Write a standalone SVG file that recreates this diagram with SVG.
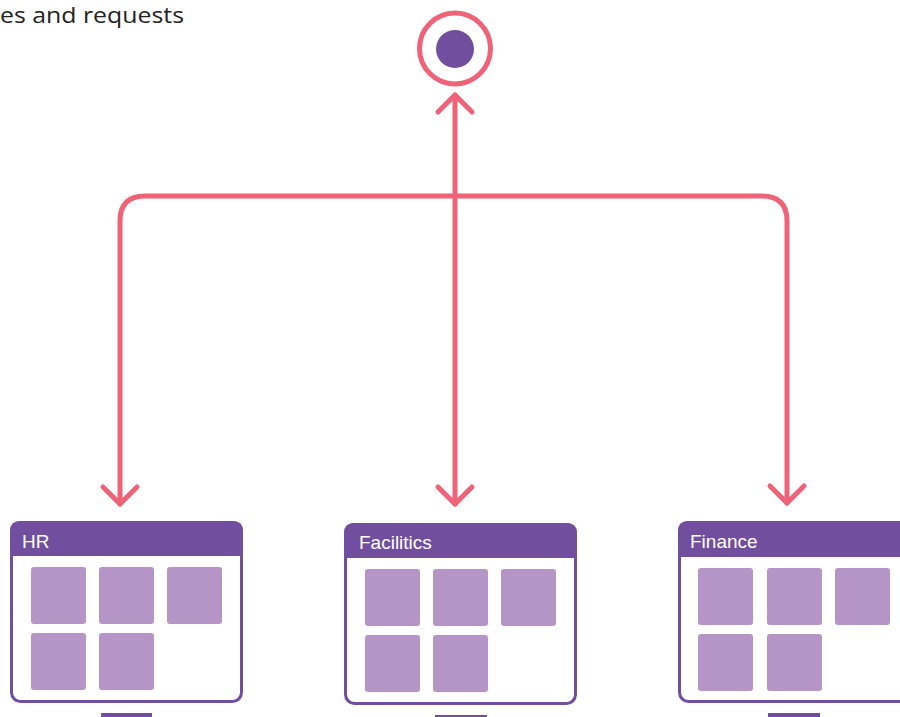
<svg xmlns="http://www.w3.org/2000/svg" width="900" height="717" viewBox="0 0 900 717">
<style>
.conn{fill:none;stroke:#f06278;stroke-width:5;stroke-linecap:round;stroke-linejoin:round}
.frame{fill:#fff;stroke:#714f9e;stroke-width:3}
.head{fill:#714f9e}
.tile{fill:#b495c5}
.lbl{font-family:"Liberation Sans",Arial,sans-serif;font-size:19px;fill:#fff}
.stand{fill:#714f9e}
</style>
<text x="0" y="23" font-family="'Open Sans','Noto Sans',sans-serif" font-size="21" fill="#222" textLength="184" lengthAdjust="spacingAndGlyphs">es and requests</text>
<g id="hub">
<circle cx="455" cy="48.5" r="35.5" fill="#fff" stroke="#f06278" stroke-width="5"/>
<circle cx="455" cy="49" r="19" fill="#714f9e"/>
</g>
<g id="connectors">
<path class="conn" d="M455 95 V504"/>
<path class="conn" d="M438 112 L455 95 L472 112"/>
<path class="conn" d="M438 487 L455 504 L472 487"/>
<path class="conn" d="M120 504 V221 Q120 196 145 196 H762 Q787 196 787 221 V503"/>
<path class="conn" d="M103 487 L120 504 L137 487"/>
<path class="conn" d="M770 486 L787 503 L804 486"/>
</g>
<g id="hr">
<rect x="11.5" y="522.5" width="230" height="179" rx="9" class="frame"/>
<path class="head" d="M10 556 V531 Q10 521 20 521 H233 Q243 521 243 531 V556 Z"/>
<text x="22" y="548" class="lbl">HR</text>
<rect x="31" y="567" width="55" height="57" rx="3" class="tile"/>
<rect x="99" y="567" width="55" height="57" rx="3" class="tile"/>
<rect x="167" y="567" width="55" height="57" rx="3" class="tile"/>
<rect x="31" y="633" width="55" height="57" rx="3" class="tile"/>
<rect x="99" y="633" width="55" height="57" rx="3" class="tile"/>
<rect x="101" y="713" width="51" height="6" class="stand"/>
</g>
<g id="facilities">
<rect x="345.5" y="524.5" width="230" height="179" rx="9" class="frame"/>
<path class="head" d="M344 558 V533 Q344 523 354 523 H567 Q577 523 577 533 V558 Z"/>
<text x="359" y="549" class="lbl">Facilitics</text>
<rect x="365" y="569" width="55" height="57" rx="3" class="tile"/>
<rect x="433" y="569" width="55" height="57" rx="3" class="tile"/>
<rect x="501" y="569" width="55" height="57" rx="3" class="tile"/>
<rect x="365" y="635" width="55" height="57" rx="3" class="tile"/>
<rect x="433" y="635" width="55" height="57" rx="3" class="tile"/>
<rect x="435" y="715" width="52" height="6" class="stand"/>
</g>
<g id="finance">
<rect x="679.5" y="522.5" width="230" height="179" rx="9" class="frame"/>
<path class="head" d="M678 557 V531 Q678 521 688 521 H901 Q911 521 911 531 V557 Z"/>
<text x="690" y="548" class="lbl">Finance</text>
<rect x="698" y="568" width="55" height="57" rx="3" class="tile"/>
<rect x="767" y="568" width="55" height="57" rx="3" class="tile"/>
<rect x="835" y="568" width="55" height="57" rx="3" class="tile"/>
<rect x="698" y="634" width="55" height="57" rx="3" class="tile"/>
<rect x="767" y="634" width="55" height="57" rx="3" class="tile"/>
<rect x="768" y="713" width="52" height="6" class="stand"/>
</g>
</svg>
